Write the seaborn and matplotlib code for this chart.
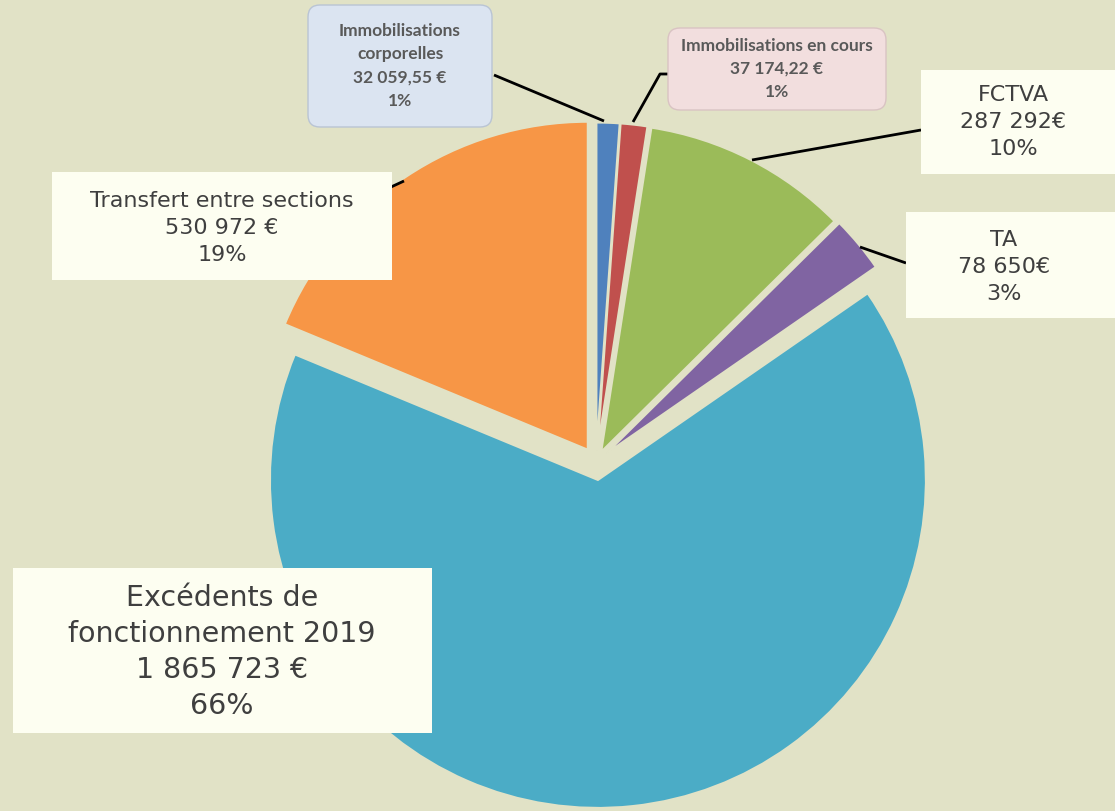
import numpy as np
import matplotlib.pyplot as plt
import seaborn as sns
from matplotlib.patches import FancyBboxPatch, Rectangle

# data
labels = ['Immobilisations\ncorporelles', 'Immobilisations en cours', 'FCTVA', 'TA',
          'Excédents de\nfonctionnement 2019', 'Transfert entre sections']
values = [32059.55, 37174.22, 287292, 78650, 1865723, 530972]
amount_labels = ['32 059,55 €', '37 174,22 €', '287 292€', '78 650€', '1 865 723 €', '530 972 €']
colors = ['#4F81BD', '#C0504D', '#9BBB59', '#8064A2', '#4BACC6', '#F79646']
explode = [0.035, 0.035, 0.035, 0.04, 0.055, 0.045]

sns.set_theme(style='white')
plt.rcParams['font.family'] = ['DejaVu Sans']

W, H = 1115, 811
bg = '#E1E2C6'
cream = '#FDFEF1'
txt = '#3F3F3F'
R = 328

def Y(y):
    return H - y

shares = np.array(values) / np.sum(values) * 100
pct_labels = [f'{round(s)}%' for s in shares]

fig = plt.figure(figsize=(W / 100, H / 100), dpi=100, facecolor=bg)
ax = fig.add_axes([0, 0, 1, 1])
ax.set_facecolor(bg)

# explode in matplotlib is in data units, so scale by the radius
ax.pie(values, colors=colors, explode=[e * R for e in explode], startangle=90,
       counterclock=False, center=(596, Y(462)), radius=R,
       wedgeprops=dict(edgecolor=bg, linewidth=1.5))

ax.set_xlim(0, W)
ax.set_ylim(0, H)
ax.set_aspect('auto')
ax.axis('off')

# leader lines
lines = [
    [(494, 75), (604, 121)],
    [(668, 74), (660, 74), (633, 122)],
    [(752, 160), (921, 130)],
    [(860, 247), (906, 263)],
    [(391, 187), (404, 181)],
]
for pts in lines:
    xs = [p[0] for p in pts]
    ys = [Y(p[1]) for p in pts]
    ax.plot(xs, ys, color='black', lw=2, solid_capstyle='butt', zorder=3)

# label boxes: (x0, y0, x1, y1), center, size, weight, face, edge, rounded
boxes = [
    ((308, 5, 492, 127), (400, 66), 12.5, 'bold', '#DBE4F1', '#B9C4D4', True),
    ((668, 28, 886, 110), (777, 69), 12.5, 'bold', '#F2DEDE', '#D9C3C3', True),
    ((921, 70, 1115, 174), (1013, 122), 16, 'normal', cream, cream, False),
    ((906, 212, 1115, 318), (1004, 267), 16, 'normal', cream, cream, False),
    ((13, 568, 432, 733), (222, 652), 20.5, 'normal', cream, cream, False),
    ((52, 172, 392, 280), (222, 228), 16, 'normal', cream, cream, False),
]

for i, (rect, c, fs, fw, fc, ec, rounded) in enumerate(boxes):
    x0, y0, x1, y1 = rect
    if rounded:
        p = FancyBboxPatch((x0 + 12, Y(y1) + 12), x1 - x0 - 24, y1 - y0 - 24,
                           boxstyle='round,pad=12', facecolor=fc, edgecolor=ec,
                           lw=1, zorder=4)
    else:
        p = Rectangle((x0, Y(y1)), x1 - x0, y1 - y0, facecolor=fc,
                      edgecolor=ec, lw=0, zorder=4)
    ax.add_patch(p)
    s = f'{labels[i]}\n{amount_labels[i]}\n{pct_labels[i]}'
    if fw == 'bold':
        ax.text(c[0], Y(c[1]), s, ha='center', va='center', fontsize=fs,
                fontweight='bold', color='#595959', linespacing=1.55,
                family=['Lato', 'DejaVu Sans'], zorder=5)
    else:
        ls = 1.35 if fs > 18 else 1.43
        ax.text(c[0], Y(c[1]), s, ha='center', va='center', fontsize=fs,
                color=txt, linespacing=ls, zorder=5)

fig.savefig('out.png', dpi=100, facecolor=bg)
